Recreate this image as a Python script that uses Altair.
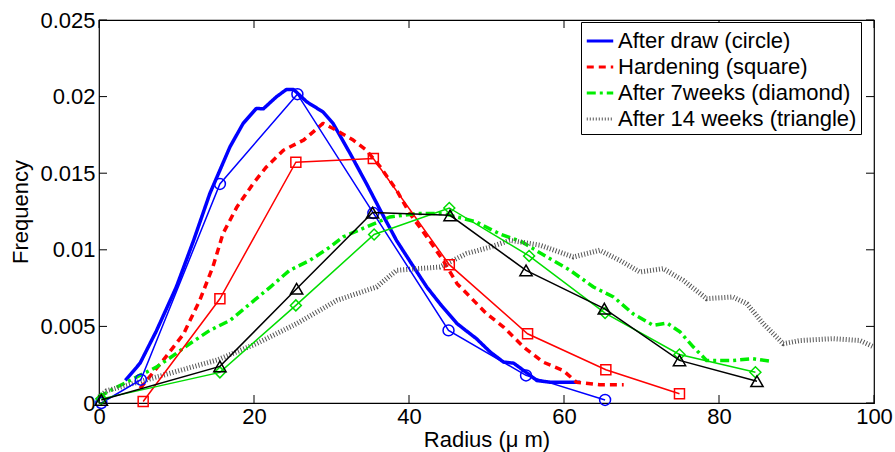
import altair as alt
import pandas as pd

# ---- smoothed distributions (thick lines) ----
draw_x = [3.4, 5.3, 7.4, 10.0, 12.2, 14.3, 16.9, 18.6, 20.3, 21.2, 22.9, 24.2, 25.1, 26.8, 28.9, 30.2, 32.4, 34.5, 36.3, 38.4, 40.6, 42.3, 44.0, 46.2, 48.7, 50.5, 52.2, 53.5, 54.8, 56.5, 58.2, 62.1]
draw_y = [0.00147, 0.0026, 0.0047, 0.0076, 0.0106, 0.01367, 0.01672, 0.01825, 0.01923, 0.0192, 0.01999, 0.02047, 0.02047, 0.01966, 0.0190, 0.01825, 0.01629, 0.01433, 0.01258, 0.0106, 0.00888, 0.00757, 0.00648, 0.00518, 0.0042, 0.00332, 0.00267, 0.0026, 0.00212, 0.00147, 0.00136, 0.00136]

hard_x = [5.3, 8.3, 10.9, 13.0, 14.7, 16.0, 17.8, 19.9, 21.6, 23.8, 26.4, 28.9, 30.2, 32.8, 34.5, 36.3, 38.4, 40.1, 42.3, 44.4, 46.2, 47.9, 50.0, 52.2, 54.8, 57.3, 59.9, 61.6, 64.6, 67.7]
hard_y = [0.00095, 0.0028, 0.0045, 0.0067, 0.0089, 0.01106, 0.0128, 0.01433, 0.01541, 0.0165, 0.01716, 0.01825, 0.01792, 0.01716, 0.0165, 0.01541, 0.01389, 0.01237, 0.01084, 0.00931, 0.00779, 0.00692, 0.00583, 0.00496, 0.00365, 0.00267, 0.00212, 0.00136, 0.00119, 0.00119]

w7_x = [0.0, 1.4, 4.4, 7.4, 9.6, 11.7, 14.3, 16.9, 19.5, 22.1, 24.6, 27.2, 29.8, 31.5, 34.5, 37.5, 41.0, 44.4, 48.7, 51.6, 54.6, 57.8, 60.8, 63.8, 66.4, 68.9, 71.5, 73.3, 75.0, 76.7, 78.4, 81.8, 84.4, 86.6]
w7_y = [0.0004, 0.0008, 0.00158, 0.00234, 0.0031, 0.00387, 0.00474, 0.00539, 0.00648, 0.00757, 0.00866, 0.00931, 0.01018, 0.01084, 0.01149, 0.01214, 0.01237, 0.01237, 0.01182, 0.01106, 0.01051, 0.00953, 0.00866, 0.00757, 0.00692, 0.00583, 0.00507, 0.00522, 0.00463, 0.00365, 0.00278, 0.00278, 0.00289, 0.00273]

w14_x = [0.0, 1.0, 7.4, 15.2, 20.3, 25.5, 30.7, 35.8, 38.4, 44.0, 47.4, 50.5, 53.0, 56.9, 61.2, 64.6, 67.2, 69.8, 72.8, 75.4, 78.4, 81.8, 83.6, 85.7, 88.3, 90.5, 94.7, 98.2, 100.0]
w14_y = [0.0004, 0.0008, 0.00169, 0.0028, 0.00387, 0.00518, 0.0067, 0.00757, 0.00866, 0.00888, 0.00975, 0.01018, 0.01062, 0.0103, 0.00953, 0.00997, 0.00931, 0.00855, 0.00877, 0.008, 0.00681, 0.00692, 0.00648, 0.00518, 0.00387, 0.00408, 0.0042, 0.00408, 0.00365]

# ---- binned histograms (thin lines with markers) ----
circ_x = [0.3, 5.4, 15.6, 25.6, 35.4, 45.1, 55.1, 65.3]
circ_y = [0.0, 0.00152, 0.0143, 0.02016, 0.0124, 0.00474, 0.0018, 0.0002]
sq_x = [5.7, 15.6, 25.4, 35.4, 45.2, 55.3, 65.4, 74.9]
sq_y = [0.0001, 0.0068, 0.01572, 0.01596, 0.00903, 0.00452, 0.00217, 0.0006]
dia_x = [0.3, 15.6, 25.4, 35.5, 45.2, 55.5, 65.3, 74.9, 84.7]
dia_y = [0.00027, 0.002, 0.00637, 0.0110, 0.01273, 0.0096, 0.00587, 0.00317, 0.00201]
tri_x = [0.3, 15.6, 25.5, 35.3, 45.3, 55.1, 65.2, 74.9, 84.9]
tri_y = [0.0002, 0.00239, 0.00746, 0.01243, 0.01225, 0.00866, 0.00616, 0.00278, 0.00142]

series = ["After draw (circle)", "Hardening (square)", "After 7weeks (diamond)", "After 14 weeks (triangle)"]
colors = ["#0000ff", "#ff0000", "#00ee00", "#555555"]
dashes = [[1, 0], [7, 5], [9, 4, 3, 4], [1, 2]]
widths = [3.5, 3.5, 3.5, 5]

x_ticks = [0, 20, 40, 60, 80, 100]
y_ticks = [0, 0.005, 0.01, 0.015, 0.02, 0.025]

W, H = 775, 383
FONT = "Liberation Sans"

xs = alt.Scale(domain=[0, 100], nice=False, zero=False)
ys = alt.Scale(domain=[0, 0.025], nice=False, zero=False)

smooth = pd.concat([
    pd.DataFrame({"x": draw_x, "y": draw_y, "series": series[0]}),
    pd.DataFrame({"x": hard_x, "y": hard_y, "series": series[1]}),
    pd.DataFrame({"x": w7_x, "y": w7_y, "series": series[2]}),
    pd.DataFrame({"x": w14_x, "y": w14_y, "series": series[3]}),
], ignore_index=True)
smooth["order"] = smooth.index

x_enc = alt.X("x:Q", scale=xs, axis=alt.Axis(values=x_ticks, title="Radius (μ m)", grid=False, domain=False,
                                               ticks=False, labelFont=FONT, labelFontSize=22, labelColor="black",
                                               labelPadding=3, titleFont=FONT, titleFontSize=22,
                                               titleFontWeight="normal", titleColor="black", titlePadding=2,
                                               labelFlush=False))
y_enc = alt.Y("y:Q", scale=ys, axis=alt.Axis(values=y_ticks, title="Frequency", grid=False, domain=False,
                                               ticks=False, format=".3~f", labelFont=FONT, labelFontSize=22,
                                               labelColor="black", labelPadding=4, titleFont=FONT,
                                               titleFontSize=22, titleFontWeight="normal", titleColor="black",
                                               titlePadding=7, labelFlush=False))

legend_cfg = dict(orient="none", legendX=482, legendY=2, title=None, symbolType="stroke", symbolSize=700,
                  symbolStrokeWidth=3, labelFont=FONT, labelFontSize=22, labelColor="black", labelOffset=3,
                  labelLimit=0, rowPadding=0, padding=4, strokeColor="black", fillColor="white", cornerRadius=0)

layers = []
for i, s in enumerate(series):
    sub = smooth[smooth["series"] == s]
    layers.append(
        alt.Chart(sub).mark_line(strokeWidth=widths[i], strokeCap="butt", strokeJoin="round").encode(
            x=x_enc, y=y_enc, order="order:Q",
            color=alt.Color("series:N", scale=alt.Scale(domain=series, range=colors),
                            legend=alt.Legend(**legend_cfg)),
            strokeDash=alt.StrokeDash("series:N", scale=alt.Scale(domain=series, range=dashes),
                                      legend=alt.Legend(**legend_cfg)),
        )
    )

marker_sets = [(circ_x, circ_y, "circle", "#0000ff", 120), (sq_x, sq_y, "square", "#ff0000", 100),
               (dia_x, dia_y, "diamond", "#00dd00", 120), (tri_x, tri_y, "triangle-up", "black", 150)]
for mx, my, shape, col, sz in marker_sets:
    df = pd.DataFrame({"x": mx, "y": my})
    base = alt.Chart(df)
    layers.append(base.mark_line(strokeWidth=1.5, color=col).encode(x="x:Q", y="y:Q"))
    layers.append(base.mark_point(shape=shape, filled=False, size=sz,
                                  strokeWidth=1.5, color=col, opacity=1).encode(x="x:Q", y="y:Q"))

# inward ticks (MATLAB box style)
xt = pd.DataFrame({"x": x_ticks})
yt = pd.DataFrame({"y": y_ticks})
layers.append(alt.Chart(xt).mark_rule(color="black", strokeWidth=1).encode(x="x:Q", y=alt.value(H), y2=alt.value(H - 8)))
layers.append(alt.Chart(xt).mark_rule(color="black", strokeWidth=1).encode(x="x:Q", y=alt.value(0), y2=alt.value(8)))
layers.append(alt.Chart(yt).mark_rule(color="black", strokeWidth=1).encode(y="y:Q", x=alt.value(0), x2=alt.value(8)))
layers.append(alt.Chart(yt).mark_rule(color="black", strokeWidth=1).encode(y="y:Q", x=alt.value(W), x2=alt.value(W - 8)))

chart = alt.layer(*layers).properties(
    width=W, height=H, autosize=alt.AutoSizeParams(type="none"),
    padding={"left": 99, "top": 20, "right": 21, "bottom": 49},
    background="white",
).configure_view(stroke="black", strokeWidth=1.2)

chart.save("out.html", embed_options={"renderer": "svg", "actions": False})
